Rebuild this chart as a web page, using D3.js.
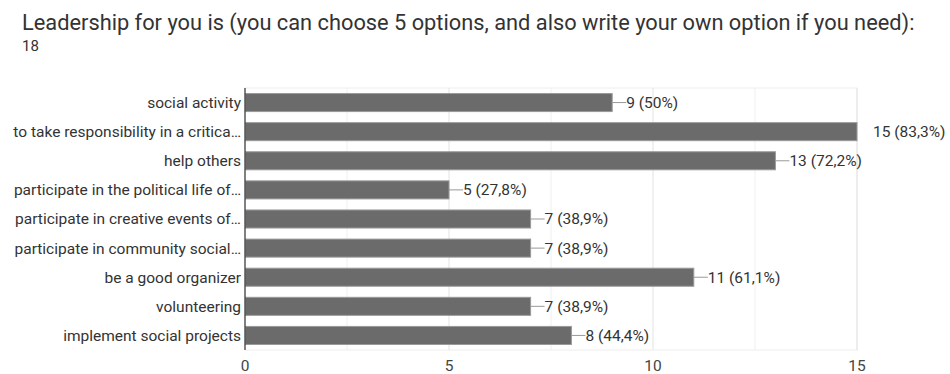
<!DOCTYPE html>
<html>
<head>
<meta charset="utf-8">
<script src="https://cdn.jsdelivr.net/npm/d3@7"></script>
<style>
  html, body { margin: 0; padding: 0; background: #fff; }
  svg { display: block; font-family: Roboto, "Noto Sans", Arial, sans-serif; }
</style>
</head>
<body>
<svg id="chart" width="950" height="374"></svg>
<script>
// Survey answers: option label, number of respondents, share label
const categories = [
  "social activity",
  "to take responsibility in a critica\u2026",
  "help others",
  "participate in the political life of\u2026",
  "participate in creative events of\u2026",
  "participate in community social\u2026",
  "be a good organizer",
  "volunteering",
  "implement social projects"
];
const counts = [9, 15, 13, 5, 7, 7, 11, 7, 8];
const percents = ["50%", "83,3%", "72,2%", "27,8%", "38,9%", "38,9%", "61,1%", "38,9%", "44,4%"];
const tickValues = [0, 5, 10, 15];
const gridValues = [2.5, 5, 7.5, 10, 12.5, 15];
const totalResponses = 18;
const title = "Leadership for you is (you can choose 5 options, and also write your own option if you need):";

const svg = d3.select("#chart");
const plotLeft = 245, plotRight = 857, plotTop = 88, plotBottom = 350;
const labelSize = 15.5;

const x = d3.scaleLinear().domain([0, 15]).range([plotLeft, plotRight]);
const y = d3.scaleBand().domain(categories).range([plotTop, plotBottom]).paddingInner(0.38).paddingOuter(0.19);

// Header
svg.append("text").attr("x", 22).attr("y", 30)
  .attr("font-size", 21.8).attr("fill", "#333").text(title);
svg.append("text").attr("x", 22).attr("y", 51)
  .attr("font-size", 15).attr("fill", "#333").text(totalResponses);

// Plot frame and vertical grid
svg.append("rect").attr("x", plotLeft).attr("y", plotTop)
  .attr("width", plotRight - plotLeft).attr("height", plotBottom - plotTop)
  .attr("fill", "none").attr("stroke", "#eeeeee");
svg.append("g").selectAll("line").data(gridValues).join("line")
  .attr("x1", d => x(d)).attr("x2", d => x(d))
  .attr("y1", plotTop).attr("y2", plotBottom)
  .attr("stroke", d => d % 5 === 0 ? "#e3e3e3" : "#f0f0f0");

// Bars
svg.append("g").selectAll("rect").data(categories).join("rect")
  .attr("x", x(0) + 0.5)
  .attr("y", d => y(d))
  .attr("width", (d, i) => x(counts[i]) - x(0) - 0.5)
  .attr("height", y.bandwidth())
  .attr("fill", "#6b6b6b")
  .attr("stroke", "#9a9a9a").attr("stroke-width", 1);

// Zero axis line
svg.append("line").attr("x1", x(0)).attr("x2", x(0))
  .attr("y1", plotTop).attr("y2", plotBottom)
  .attr("stroke", "#333").attr("stroke-width", 1.2);

// Category labels
svg.append("g").selectAll("text").data(categories).join("text")
  .attr("x", plotLeft - 4)
  .attr("y", d => y(d) + y.bandwidth() / 2)
  .attr("dy", "0.35em")
  .attr("text-anchor", "end")
  .attr("font-size", labelSize).attr("fill", "#333")
  .text(d => d);

// Value annotations with leader stems
const maxCount = d3.max(counts);
const ann = svg.append("g");
categories.forEach((c, i) => {
  const cy = y(c) + y.bandwidth() / 2;
  const xe = x(counts[i]);
  if (counts[i] === maxCount) {
    ann.append("text").attr("x", xe + 16).attr("y", cy).attr("dy", "0.35em")
      .attr("font-size", labelSize).attr("fill", "#333")
      .text(`${counts[i]} (${percents[i]})`);
  } else {
    ann.append("line").attr("x1", xe).attr("x2", xe + 14)
      .attr("y1", cy).attr("y2", cy)
      .attr("stroke", "#999").attr("stroke-width", 1);
    ann.append("text").attr("x", xe + 14).attr("y", cy).attr("dy", "0.35em")
      .attr("font-size", labelSize).attr("fill", "#333")
      .text(`${counts[i]} (${percents[i]})`);
  }
});

// X axis tick labels
svg.append("g").selectAll("text").data(tickValues).join("text")
  .attr("x", d => x(d)).attr("y", 371)
  .attr("text-anchor", "middle")
  .attr("font-size", labelSize).attr("fill", "#444")
  .text(d => d);
</script>
</body>
</html>
